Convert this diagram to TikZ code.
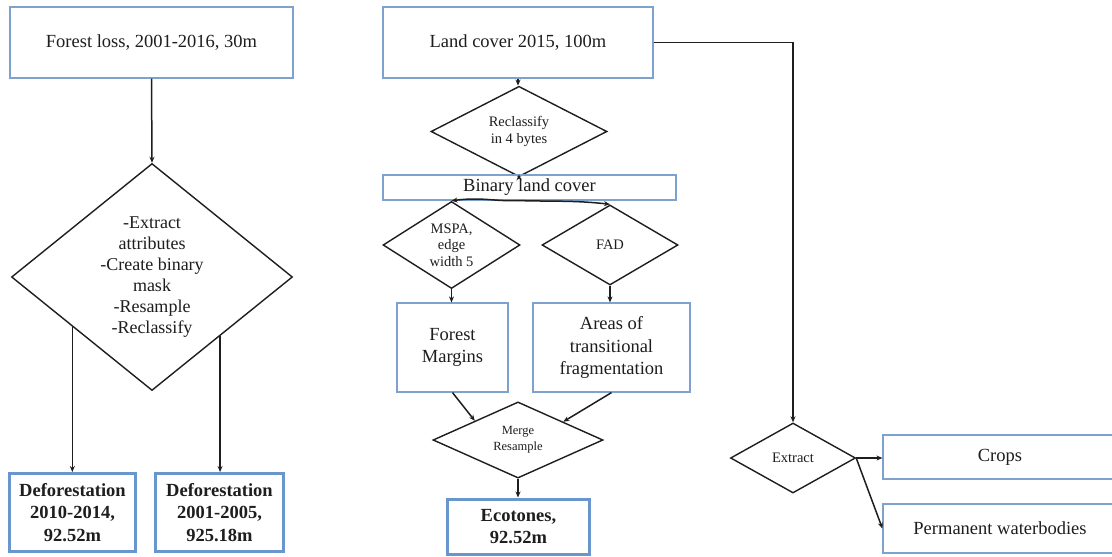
\documentclass[tikz,border=0pt]{standalone}
\usepackage{fontspec}
\setmainfont{LiberationSerif}[Extension=.ttf,UprightFont=*-Regular,BoldFont=*-Bold,ItalicFont=*-Italic,BoldItalicFont=*-BoldItalic]
\usetikzlibrary{shapes.geometric,arrows.meta}
\definecolor{boxblue}{RGB}{125,162,205}
\definecolor{outblue}{RGB}{105,150,205}
\definecolor{ink}{RGB}{30,30,30}
\begin{document}
\begin{tikzpicture}[x=1pt,y=-1pt,
  every node/.style={text=ink},
  box/.style={draw=boxblue,line width=1.2pt,rectangle,inner sep=0pt,align=center,
    font=\fontsize{18.5}{22.5}\selectfont},
  outbox/.style={box,draw=outblue,line width=3pt,font=\fontsize{18.5}{22.5}\selectfont\bfseries},
  decision/.style={draw=ink,line width=1.4pt,diamond,inner sep=0pt,align=center,
    font=\fontsize{14.5}{16.7}\selectfont},
  flow/.style={draw=ink,line width=1.5pt,-{Stealth[length=6pt,width=5pt]}}
]
\clip (0,0) rectangle (1112,557);
\fill[white] (0,0) rectangle (1112,557);

% left branch: forest loss
\node[box,minimum width=283pt,minimum height=71pt] (floss) at (151.5,42.5) {Forest loss, 2001-2016, 30m};
\node[decision,minimum width=281pt,minimum height=227pt,font=\fontsize{18}{21}\selectfont] (bigd) at (152,277)
  {-Extract\\attributes\\-Create binary\\mask\\-Resample\\-Reclassify};
\node[outbox,minimum width=126pt,minimum height=78pt] (def1) at (72.5,512.5) {Deforestation\\2010-2014,\\92.52m};
\node[outbox,minimum width=128pt,minimum height=78pt] (def2) at (219.5,512.5) {Deforestation\\2001-2005,\\925.18m};

% middle branch: land cover
\node[box,minimum width=270pt,minimum height=71pt] (land) at (518,42.5) {Land cover 2015, 100m};
\node[decision,minimum width=176pt,minimum height=67pt] (recl) at (519,131.5) {Reclassify\\in 4 bytes};
\node[box,minimum width=293pt,minimum height=25pt] (bin) at (529.5,187.5) {Binary land cover};
\node[decision,minimum width=137pt,minimum height=80pt] (mspa) at (451.5,245) {MSPA,\\edge\\width 5};
\node[decision,minimum width=136pt,minimum height=80pt] (fad) at (610,245) {FAD};
\node[box,minimum width=111pt,minimum height=89pt] (fm) at (452.5,347.5) {Forest\\Margins};
\node[box,minimum width=157pt,minimum height=89pt] (atf) at (611.5,347.5) {Areas of\\transitional\\fragmentation};
\node[decision,minimum width=170pt,minimum height=76pt,font=\fontsize{12.5}{16}\selectfont] (merge) at (518,440) {Merge\\Resample};
\node[outbox,minimum width=142pt,minimum height=55pt] (eco) at (518.5,526.5) {Ecotones,\\92.52m};

% right branch: extraction
\node[decision,minimum width=125pt,minimum height=70pt] (extract) at (793,458) {Extract};
\node[box,minimum width=234pt,minimum height=44pt] (crops) at (1000,457) {Crops};
\node[box,minimum width=234pt,minimum height=49pt] (pw) at (1000,528.5) {Permanent waterbodies};

% connectors
\draw[flow] (floss.south) -- (bigd.north);
\draw[flow] (bigd.212) -- (bigd.212 |- def1.north);
\draw[flow] (bigd.319) -- (bigd.319 |- def2.north);

\draw[flow] (land.south) -- (land.south |- recl.north);
\draw[flow] (recl.south) -- (recl.south |- bin.north);
\draw[flow] (recl.south |- bin.south) .. controls +(-25,1) and +(30,-4) .. (mspa.north);
\draw[flow] (recl.south |- bin.south) .. controls +(35,1) and +(-35,-4) .. (fad.north);
\draw[flow] (mspa.south) -- (mspa.south |- fm.north);
\draw[flow] (fad.south) -- (fad.south |- atf.north);
\draw[flow] (fm.south) -- (merge.156);
\draw[flow] (atf.south) -- (merge.22);
\draw[flow] (merge.south) -- (merge.south |- eco.north);

\draw[flow] (land.east) -| (extract.north);
\draw[flow] (extract.east) -- (extract.east -| crops.west);
\draw[flow] (extract.east) -- (pw.west);
\end{tikzpicture}
\end{document}
